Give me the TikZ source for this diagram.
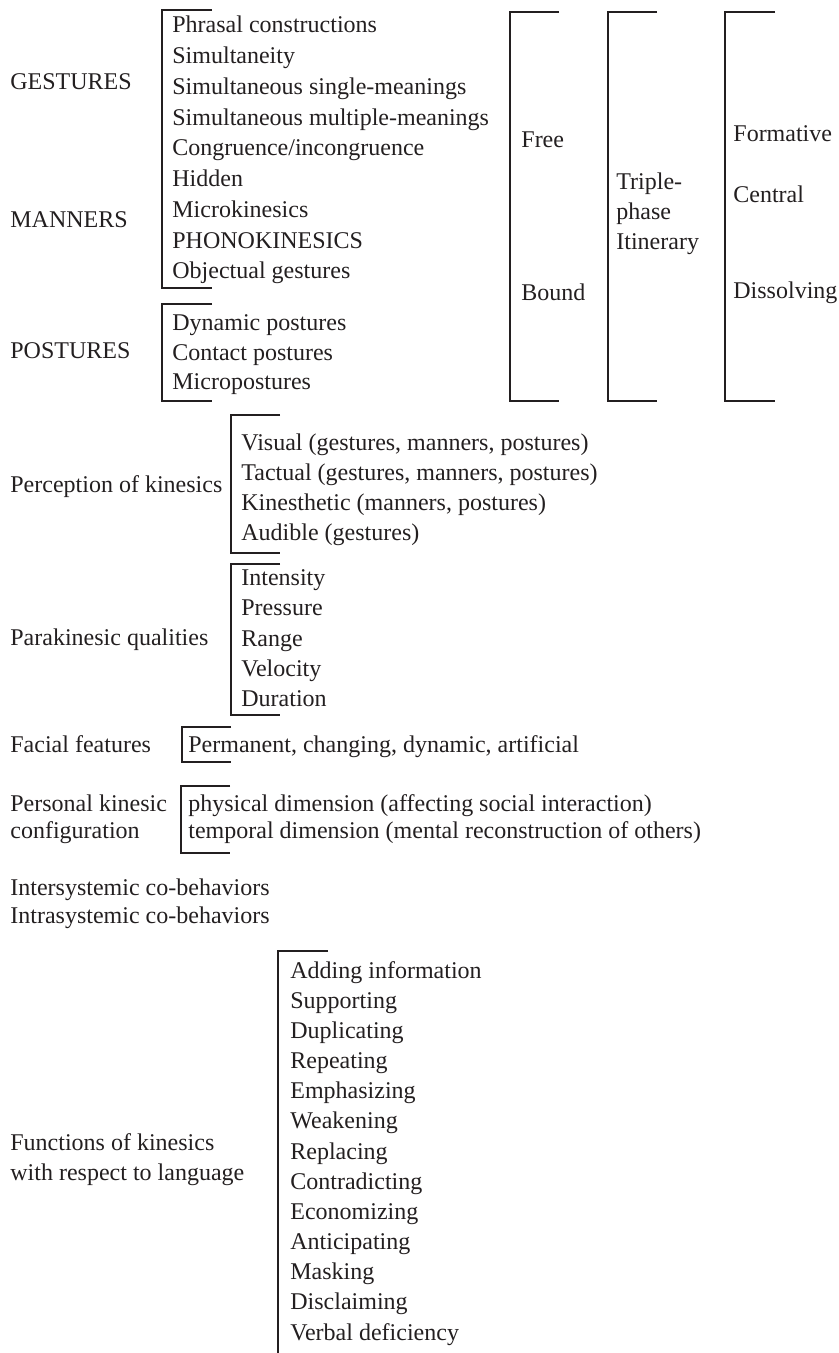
\documentclass[tikz,border=0pt]{standalone}
\usepackage{fontspec}
\setmainfont{Liberation Serif}
\definecolor{ink}{HTML}{231F20}
\tikzset{
  lbl/.style={anchor=base west, inner sep=0pt, font=\fontsize{12}{14}\selectfont, text=ink},
  brk/.style={draw=ink, line width=0.6pt}
}
\begin{document}
\begin{tikzpicture}[x=0.5pt,y=-0.5pt]
\useasboundingbox (0,0) rectangle (839,1353);
% ---- top block left labels
\node[lbl] (gest) at (10,90) {GESTURES};
\node[lbl] (mann) at (10,228) {MANNERS};
\node[lbl] (post) at (10,358) {POSTURES};
% bracket A
\draw[brk] (212,10) -| (162,288) -- (212,288);
\foreach \t [count=\i from 0] in {Phrasal constructions, Simultaneity, Simultaneous single-meanings, Simultaneous multiple-meanings, Congruence/incongruence, Hidden, Microkinesics, PHONOKINESICS, Objectual gestures}
  \node[lbl] (a\i) at (172,{33+30.75*\i}) {\t};
% bracket B
\draw[brk] (212,304) -| (162,401) -- (212,401);
\node[lbl] (b0) at (172,330) {Dynamic postures};
\node[lbl] (b1) at (172,360) {Contact postures};
\node[lbl] (b2) at (172,389) {Micropostures};
% right brackets
\draw[brk] (559,12) -| (510,401) -- (559,401);
\node[lbl] (free) at (521,148) {Free};
\node[lbl] (bound) at (521,301) {Bound};
\draw[brk] (657,12) -| (608,401) -- (657,401);
\node[lbl] (tr1) at (616,190) {Triple-};
\node[lbl] (tr2) at (616,220) {phase};
\node[lbl] (tr3) at (616,250) {Itinerary};
\draw[brk] (775,12) -| (725,401) -- (775,401);
\node[lbl] (form) at (733,142) {Formative};
\node[lbl] (cent) at (733,203) {Central};
\node[lbl] (diss) at (733,299) {Dissolving};
% perception
\node[lbl] (perc) at (10,492) {Perception of kinesics};
\draw[brk] (280,415) -| (231,553) -- (280,553);
\node[lbl] (p0) at (241,450) {Visual (gestures, manners, postures)};
\node[lbl] (p1) at (241,480) {Tactual (gestures, manners, postures)};
\node[lbl] (p2) at (241,510) {Kinesthetic (manners, postures)};
\node[lbl] (p3) at (241,540) {Audible (gestures)};
% parakinesic
\node[lbl] (para) at (10,645) {Parakinesic qualities};
\draw[brk] (280,564) -| (231,715) -- (280,715);
\foreach \t [count=\i from 0] in {Intensity, Pressure, Range, Velocity, Duration}
  \node[lbl] (q\i) at (241,{585.5+30.25*\i}) {\t};
% facial
\node[lbl] (fac) at (10,752) {Facial features};
\draw[brk] (231,727) -| (182,762) -- (231,762);
\node[lbl] (fac1) at (188,752) {Permanent, changing, dynamic, artificial};
% personal
\node[lbl] (pers1) at (10,811) {Personal kinesic};
\node[lbl] (pers2) at (10,838) {configuration};
\draw[brk] (230,786) -| (181,853) -- (230,853);
\node[lbl] (pd1) at (188,811) {physical dimension (affecting social interaction)};
\node[lbl] (pd2) at (188,838) {temporal dimension (mental reconstruction of others)};
% co-behaviors
\node[lbl] (inter) at (10,895) {Intersystemic co-behaviors};
\node[lbl] (intra) at (10,923) {Intrasystemic co-behaviors};
% functions
\node[lbl] (fun1) at (10,1150) {Functions of kinesics};
\node[lbl] (fun2) at (10,1180) {with respect to language};
\draw[brk] (328,951) -| (278,1353);
\foreach \t [count=\i from 0] in {Adding information, Supporting, Duplicating, Repeating, Emphasizing, Weakening, Replacing, Contradicting, Economizing, Anticipating, Masking, Disclaiming, Verbal deficiency}
  \node[lbl] (f\i) at (290,{978+30.17*\i}) {\t};
\end{tikzpicture}
\end{document}
